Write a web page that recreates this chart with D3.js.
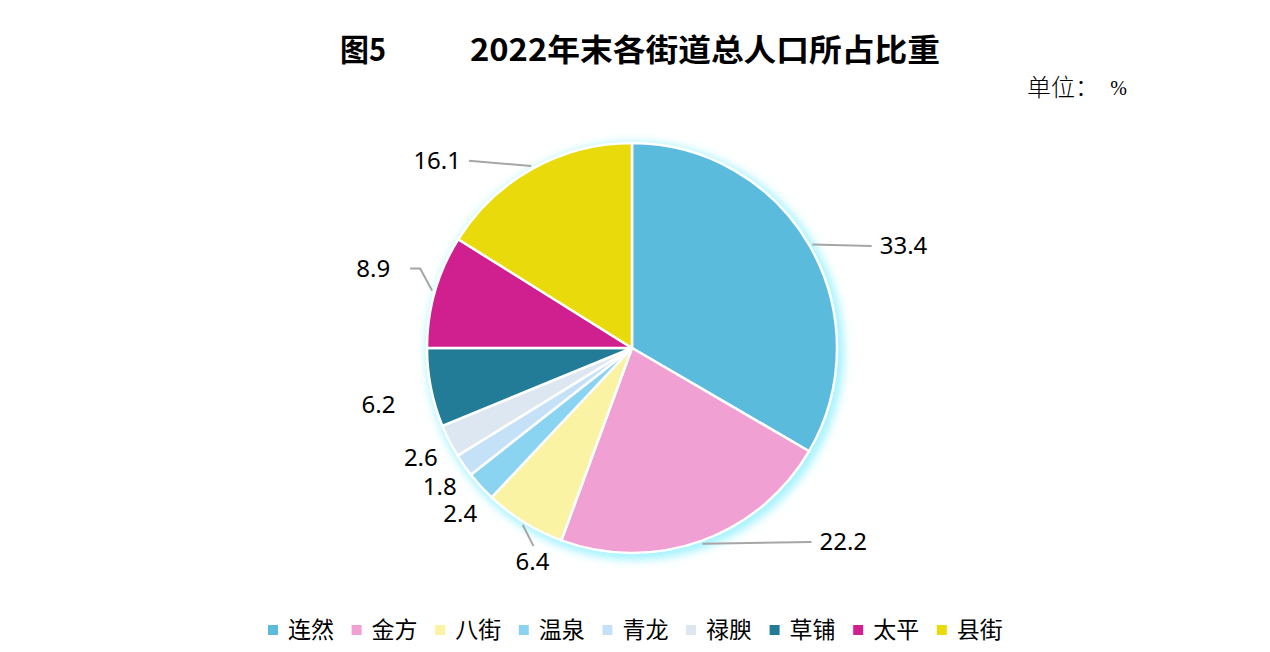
<!DOCTYPE html>
<html>
<head>
<meta charset="utf-8">
<script src="https://cdn.jsdelivr.net/npm/d3@7"></script>
<style>
body{margin:0;background:#fff;}
svg{display:block;}
</style>
</head>
<body>
<div class="chart"></div>
<script>
// data
var streets = ["连然","金方","八街","温泉","青龙","禄腴","草铺","太平","县街"];
var shares = [33.4,22.2,6.4,2.4,1.8,2.6,6.2,8.9,16.1];
var colors = ["#5bbbdc","#f0a0d2","#f9f3a3","#8bd4f1","#c5e1f8","#dde7f2","#227b97","#d01f8f","#e8da0b"];

// label nudges from the arc point, and kind of leader line
var labelNudge = [[66,16],[131,-29],[25,12],[3,6],[2,3],[0,2],[-21,11],[-31,-14],[-80,20]];
var leaderKind = ["right","right","down","none","none","none","none","elbow","left"];

var W = 1270, H = 652;
var cx = 632, cy = 348, r = 205;

var svg = d3.select(".chart").append("svg")
	.attr("width", W)
	.attr("height", H);

// title
svg.append("text")
	.attr("x", 340).attr("y", 61)
	.style("font-family", "'Noto Sans CJK SC'")
	.style("font-weight", "bold")
	.style("font-size", "31px")
	.attr("textLength", 46).attr("lengthAdjust", "spacingAndGlyphs")
	.text("图5");
svg.append("text")
	.attr("x", 470).attr("y", 61)
	.style("font-family", "'Noto Sans CJK SC'")
	.style("font-weight", "bold")
	.style("font-size", "31px")
	.attr("textLength", 470).attr("lengthAdjust", "spacingAndGlyphs")
	.text("2022年末各街道总人口所占比重");
svg.append("text")
	.attr("x", 1027).attr("y", 96)
	.style("font-family", "'Noto Sans CJK SC'")
	.style("font-weight", "300")
	.style("font-size", "24px")
	.text("单位：");
svg.append("text")
	.attr("x", 1127).attr("y", 95)
	.style("text-anchor", "end")
	.style("font-family", "'Liberation Serif'")
	.style("font-size", "20px")
	.text("%");

// glow behind the pie
var defs = svg.append("defs");
defs.append("filter").attr("id", "glow")
	.attr("x", "-20%").attr("y", "-20%").attr("width", "140%").attr("height", "140%")
	.append("feGaussianBlur").attr("stdDeviation", 4);

var g = svg.append("g").attr("transform", "translate(" + cx + "," + cy + ")");
g.append("circle")
	.attr("cx", 3).attr("cy", 3).attr("r", r + 4)
	.attr("fill", "#a6f3ff")
	.attr("filter", "url(#glow)");

var pie = d3.pie().sort(null).value(function(d){ return d; });
var arcs = pie(shares);
var arc = d3.arc().innerRadius(0).outerRadius(r);
var edge = d3.arc().innerRadius(r + 3).outerRadius(r + 3);
var lab = d3.arc().innerRadius(237).outerRadius(237);

g.selectAll("path.slice")
	.data(arcs)
	.enter()
	.append("path")
	.attr("class", "slice")
	.attr("d", arc)
	.attr("fill", function(d, i){ return colors[i]; })
	.attr("stroke", "#fff")
	.attr("stroke-width", 2.5)
	.attr("stroke-linejoin", "round");

// label positions
var labels = arcs.map(function(d, i){
	var c = lab.centroid(d), e = edge.centroid(d);
	return {x: c[0] + labelNudge[i][0], y: c[1] + labelNudge[i][1], ex: e[0], ey: e[1], v: shares[i], kind: leaderKind[i]};
});

var texts = g.selectAll("text.lbl")
	.data(labels)
	.enter()
	.append("text")
	.attr("class", "lbl")
	.attr("x", function(d){ return d.x; })
	.attr("y", function(d){ return d.y; })
	.attr("dy", "0.35em")
	.style("text-anchor", "middle")
	.style("font-family", "'Noto Sans'")
	.style("font-size", "24px")
	.style("fill", "#000")
	.text(function(d){ return d.v.toFixed(1); });

// leader lines
texts.each(function(d){
	var bb = this.getBBox();
	var pts = null;
	if (d.kind == "right") pts = [[d.ex, d.ey], [bb.x - 8, d.y]];
	if (d.kind == "left") pts = [[d.ex, d.ey], [bb.x + bb.width + 8, d.y]];
	if (d.kind == "down") pts = [[d.ex, d.ey], [d.x + 1, bb.y + 2]];
	if (d.kind == "elbow") pts = [[d.ex, d.ey], [bb.x + bb.width + 30, d.y], [bb.x + bb.width + 20, d.y]];
	if (pts) {
		g.append("path")
			.attr("d", d3.line()(pts))
			.attr("fill", "none")
			.attr("stroke", "#a6a6a6")
			.attr("stroke-width", 2);
	}
});

// legend
var legend = svg.append("g").attr("transform", "translate(268,630)");
var item = legend.selectAll("g")
	.data(streets)
	.enter()
	.append("g")
	.attr("transform", function(d, i){ return "translate(" + (i * 83.6) + ",0)"; });
item.append("rect")
	.attr("x", 0).attr("y", -5)
	.attr("width", 10).attr("height", 10)
	.attr("fill", function(d, i){ return colors[i]; });
item.append("text")
	.attr("x", 20).attr("y", 0)
	.attr("dy", "0.36em")
	.style("font-family", "'Noto Sans CJK SC'")
	.style("font-size", "23px")
	.text(function(d){ return d; });
</script>
</body>
</html>
